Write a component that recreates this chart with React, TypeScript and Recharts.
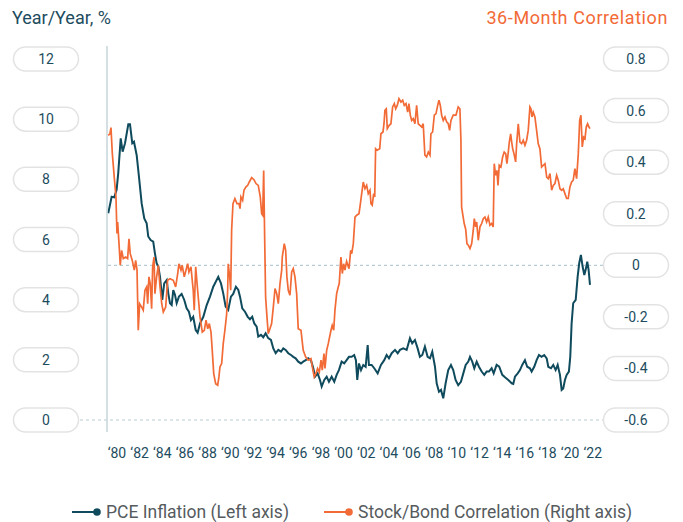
import React from 'react';
import { LineChart, Line, XAxis, YAxis, ReferenceLine, Legend } from 'recharts';

// ---------- data ----------
const xTicks = [1980, 1982, 1984, 1986, 1988, 1990, 1992, 1994, 1996, 1998, 2000, 2002, 2004, 2006, 2008, 2010, 2012, 2014, 2016, 2018, 2020, 2022];
const leftTicks = [0, 2, 4, 6, 8, 10, 12];
const rightTicks = [-0.6, -0.4, -0.2, 0, 0.2, 0.4, 0.6, 0.8];
const leftTitle = 'Year/Year, %';
const rightTitle = '36-Month Correlation';
const pceName = 'PCE Inflation (Left axis)';
const corrName = 'Stock/Bond Correlation (Right axis)';

// [year, core PCE inflation y/y %]
const pceSeries: [number, number][] = [
  [1979.23, 6.87], [1979.53, 7.42], [1979.76, 7.40], [1979.97, 7.65], [1980.11, 8.20], [1980.33, 9.36], [1980.50, 8.92], [1980.71, 9.20],
  [1981.00, 9.83], [1981.15, 9.83], [1981.35, 9.20], [1981.50, 9.25], [1981.74, 8.80], [1981.94, 8.09], [1982.18, 7.20], [1982.41, 6.70],
  [1982.62, 6.54], [1982.76, 6.10], [1982.97, 5.98], [1983.20, 5.93], [1983.35, 5.54], [1983.50, 5.21], [1983.65, 5.10], [1983.80, 4.76],
  [1984.00, 3.99], [1984.17, 4.54], [1984.39, 4.65], [1984.53, 4.21], [1984.68, 3.88], [1984.83, 3.82], [1984.97, 4.32], [1985.12, 4.16],
  [1985.27, 3.88], [1985.47, 4.10], [1985.71, 4.19], [1985.94, 3.99], [1986.15, 3.71], [1986.35, 3.60], [1986.53, 3.32], [1986.73, 3.43],
  [1986.95, 2.99], [1987.12, 2.90], [1987.33, 3.21], [1987.62, 3.43], [1987.92, 3.82], [1988.21, 4.10], [1988.50, 4.43], [1988.94, 4.76],
  [1989.18, 4.54], [1989.38, 4.21], [1989.59, 3.77], [1989.82, 3.66], [1990.06, 4.10], [1990.26, 4.19], [1990.50, 4.43], [1990.71, 4.32],
  [1990.86, 4.10], [1991.06, 3.71], [1991.30, 3.60], [1991.54, 3.43], [1991.74, 3.35], [1991.94, 3.43], [1992.12, 3.21], [1992.33, 3.10],
  [1992.47, 2.77], [1992.71, 2.83], [1992.91, 2.75], [1993.12, 2.88], [1993.35, 2.72], [1993.59, 2.66], [1993.80, 2.38], [1994.01, 2.22],
  [1994.24, 2.33], [1994.48, 2.27], [1994.68, 2.38], [1994.89, 2.33], [1995.12, 2.22], [1995.36, 2.16], [1995.56, 2.10], [1995.77, 2.05],
  [1996.00, 1.94], [1996.24, 1.88], [1996.44, 1.94], [1996.66, 1.99], [1996.88, 2.05], [1997.12, 1.99], [1997.33, 1.72], [1997.48, 1.44],
  [1997.71, 1.55], [1997.92, 1.33], [1998.07, 1.11], [1998.30, 1.33], [1998.51, 1.44], [1998.71, 1.27], [1998.95, 1.44], [1999.18, 1.27],
  [1999.39, 1.50], [1999.59, 1.66], [1999.83, 1.94], [2000.06, 1.88], [2000.27, 1.99], [2000.48, 2.10], [2000.72, 2.10], [2000.94, 2.16],
  [2001.09, 1.99], [2001.21, 1.33], [2001.36, 1.88], [2001.54, 1.66], [2001.74, 1.83], [2001.95, 1.77], [2002.13, 2.49], [2002.24, 1.83],
  [2002.48, 1.83], [2002.71, 1.72], [2003.01, 1.55], [2003.30, 1.83], [2003.59, 1.99], [2003.80, 2.16], [2004.01, 2.05], [2004.25, 2.22],
  [2004.54, 2.33], [2004.78, 2.22], [2004.98, 2.33], [2005.27, 2.38], [2005.57, 2.33], [2005.86, 2.72], [2006.06, 2.55], [2006.30, 2.66],
  [2006.54, 2.38], [2006.74, 2.10], [2006.95, 2.16], [2007.18, 2.44], [2007.42, 2.10], [2007.63, 2.05], [2007.83, 2.27], [2008.07, 1.77],
  [2008.22, 1.22], [2008.42, 0.94], [2008.60, 1.00], [2008.80, 0.72], [2009.01, 1.22], [2009.24, 1.66], [2009.48, 1.83], [2009.68, 1.66],
  [2009.89, 1.33], [2010.12, 1.16], [2010.36, 1.27], [2010.57, 1.55], [2010.78, 1.83], [2011.01, 1.94], [2011.16, 2.10], [2011.36, 1.94],
  [2011.54, 1.72], [2011.75, 1.94], [2011.95, 1.77], [2012.19, 1.61], [2012.42, 1.50], [2012.63, 1.61], [2012.83, 1.61], [2013.07, 1.72],
  [2013.25, 1.55], [2013.51, 1.83], [2013.74, 1.77], [2014.01, 1.50], [2014.25, 1.42], [2014.54, 1.33], [2014.84, 1.22], [2014.98, 1.20],
  [2015.13, 1.44], [2015.37, 1.55], [2015.57, 1.66], [2015.77, 1.83], [2016.01, 1.99], [2016.21, 1.77], [2016.45, 1.72], [2016.60, 1.61],
  [2016.83, 1.77], [2017.04, 1.99], [2017.25, 2.16], [2017.48, 2.10], [2017.71, 2.16], [2017.93, 2.05], [2018.07, 1.77], [2018.31, 1.72],
  [2018.51, 1.83], [2018.72, 1.66], [2018.90, 1.83], [2019.10, 1.50], [2019.25, 1.00], [2019.39, 1.05], [2019.54, 1.33], [2019.69, 1.50],
  [2019.89, 1.61], [2020.01, 2.10], [2020.13, 3.21], [2020.27, 3.88], [2020.49, 3.99], [2020.66, 4.76], [2020.80, 5.21], [2020.95, 5.49],
  [2021.10, 5.10], [2021.25, 4.82], [2021.37, 4.99], [2021.51, 5.26], [2021.63, 4.99], [2021.75, 4.49],
];

// [year, 36-month stock/bond correlation]
const corrSeries: [number, number][] = [
  [1979.23, 0.504], [1979.38, 0.510], [1979.47, 0.534], [1979.59, 0.433], [1979.76, 0.342], [1979.91, 0.265], [1980.00, 0.123], [1980.06, 0.168],
  [1980.18, 0.084], [1980.29, 0.000], [1980.41, 0.058], [1980.56, 0.026], [1980.77, 0.032], [1980.94, 0.026], [1981.06, 0.103], [1981.17, 0.045],
  [1981.35, 0.019], [1981.53, -0.019], [1981.65, 0.019], [1981.77, -0.019], [1981.88, -0.252], [1982.00, -0.149], [1982.18, -0.162], [1982.32, -0.174],
  [1982.47, -0.097], [1982.62, -0.084], [1982.71, -0.149], [1982.82, -0.045], [1982.94, -0.071], [1983.06, -0.168], [1983.15, -0.006], [1983.27, 0.032],
  [1983.35, -0.110], [1983.50, -0.045], [1983.65, 0.000], [1983.80, -0.084], [1983.95, -0.149], [1984.09, -0.181], [1984.30, -0.162], [1984.47, -0.058],
  [1984.68, -0.052], [1984.97, -0.058], [1985.18, -0.084], [1985.36, -0.032], [1985.47, 0.006], [1985.65, -0.019], [1985.76, 0.000], [1985.94, -0.045],
  [1986.09, -0.019], [1986.24, 0.006], [1986.35, -0.026], [1986.53, -0.006], [1986.73, -0.097], [1986.82, -0.174], [1986.95, -0.006], [1987.12, -0.097],
  [1987.33, -0.200], [1987.53, -0.259], [1987.71, -0.252], [1987.86, -0.213], [1988.01, -0.246], [1988.15, -0.226], [1988.30, -0.259], [1988.41, -0.330],
  [1988.54, -0.420], [1988.71, -0.459], [1988.89, -0.465], [1989.00, -0.433], [1989.09, -0.394], [1989.24, -0.381], [1989.38, -0.304], [1989.53, -0.250],
  [1989.68, -0.190], [1989.77, -0.097], [1989.82, 0.006], [1989.95, -0.045], [1990.04, -0.097], [1990.12, 0.136], [1990.24, 0.239], [1990.41, 0.259],
  [1990.59, 0.239], [1990.77, 0.239], [1990.86, 0.220], [1990.94, 0.265], [1991.09, 0.252], [1991.21, 0.291], [1991.39, 0.304], [1991.54, 0.310],
  [1991.68, 0.323], [1991.89, 0.340], [1992.09, 0.332], [1992.27, 0.317], [1992.47, 0.310], [1992.65, 0.265], [1992.77, 0.200], [1992.86, 0.194],
  [1992.95, 0.368], [1993.04, 0.097], [1993.12, -0.123], [1993.24, -0.200], [1993.35, -0.265], [1993.50, -0.246], [1993.65, -0.226], [1993.80, -0.162],
  [1993.95, -0.090], [1994.10, -0.110], [1994.24, -0.149], [1994.39, -0.071], [1994.54, -0.019], [1994.59, 0.032], [1994.77, 0.084], [1994.89, 0.058],
  [1995.00, -0.045], [1995.12, -0.097], [1995.27, -0.116], [1995.42, -0.026], [1995.56, -0.013], [1995.71, -0.045], [1995.86, -0.110], [1996.00, -0.246],
  [1996.24, -0.252], [1996.44, -0.330], [1996.66, -0.356], [1996.88, -0.368], [1997.12, -0.362], [1997.24, -0.394], [1997.41, -0.433], [1997.56, -0.420],
  [1997.71, -0.400], [1997.86, -0.414], [1998.01, -0.368], [1998.12, -0.407], [1998.27, -0.342], [1998.36, -0.400], [1998.51, -0.330], [1998.65, -0.304],
  [1998.89, -0.252], [1999.00, -0.233], [1999.13, -0.252], [1999.24, -0.174], [1999.39, -0.110], [1999.53, -0.084], [1999.62, -0.071], [1999.71, -0.006],
  [1999.77, 0.032], [1999.89, -0.032], [2000.01, 0.006], [2000.12, -0.019], [2000.27, 0.015], [2000.48, -0.013], [2000.63, 0.058], [2000.72, 0.045],
  [2000.86, 0.084], [2001.01, 0.187], [2001.16, 0.194], [2001.36, 0.200], [2001.47, 0.233], [2001.60, 0.278], [2001.74, 0.323], [2001.89, 0.297],
  [2002.04, 0.310], [2002.18, 0.278], [2002.33, 0.291], [2002.42, 0.239], [2002.53, 0.233], [2002.66, 0.278], [2002.75, 0.265], [2002.83, 0.452],
  [2002.97, 0.446], [2003.19, 0.452], [2003.30, 0.510], [2003.48, 0.517], [2003.57, 0.549], [2003.65, 0.601], [2003.77, 0.607], [2003.86, 0.530],
  [2004.03, 0.543], [2004.18, 0.549], [2004.33, 0.614], [2004.48, 0.627], [2004.60, 0.607], [2004.74, 0.620], [2004.89, 0.646], [2005.07, 0.633],
  [2005.22, 0.640], [2005.36, 0.620], [2005.51, 0.627], [2005.66, 0.594], [2005.77, 0.627], [2005.89, 0.582], [2006.01, 0.562], [2006.15, 0.569],
  [2006.30, 0.549], [2006.45, 0.620], [2006.59, 0.549], [2006.74, 0.543], [2006.89, 0.536], [2007.03, 0.549], [2007.18, 0.427], [2007.33, 0.420],
  [2007.48, 0.439], [2007.63, 0.427], [2007.71, 0.510], [2007.86, 0.517], [2008.01, 0.582], [2008.16, 0.588], [2008.31, 0.620], [2008.42, 0.640],
  [2008.54, 0.620], [2008.66, 0.582], [2008.80, 0.562], [2008.95, 0.575], [2009.10, 0.556], [2009.24, 0.549], [2009.36, 0.523], [2009.48, 0.562],
  [2009.68, 0.582], [2009.92, 0.582], [2010.12, 0.614], [2010.27, 0.607], [2010.36, 0.485], [2010.42, 0.226], [2010.51, 0.200], [2010.65, 0.162],
  [2010.78, 0.140], [2010.89, 0.084], [2011.01, 0.078], [2011.16, 0.065], [2011.31, 0.084], [2011.45, 0.136], [2011.54, 0.181], [2011.66, 0.149],
  [2011.75, 0.168], [2011.89, 0.097], [2012.04, 0.149], [2012.19, 0.162], [2012.33, 0.181], [2012.48, 0.187], [2012.63, 0.168], [2012.77, 0.187],
  [2012.92, 0.155], [2013.07, 0.162], [2013.21, 0.149], [2013.30, 0.394], [2013.42, 0.349], [2013.54, 0.368], [2013.63, 0.310], [2013.74, 0.388],
  [2013.89, 0.381], [2014.04, 0.420], [2014.18, 0.439], [2014.31, 0.433], [2014.42, 0.394], [2014.54, 0.439], [2014.63, 0.478], [2014.75, 0.510],
  [2014.84, 0.478], [2014.93, 0.452], [2015.04, 0.433], [2015.19, 0.401], [2015.28, 0.472], [2015.42, 0.549], [2015.57, 0.478], [2015.72, 0.472],
  [2015.86, 0.485], [2016.01, 0.465], [2016.16, 0.485], [2016.30, 0.523], [2016.45, 0.614], [2016.54, 0.607], [2016.63, 0.575], [2016.74, 0.594],
  [2016.89, 0.575], [2017.04, 0.523], [2017.18, 0.472], [2017.33, 0.452], [2017.48, 0.381], [2017.63, 0.388], [2017.78, 0.394], [2017.93, 0.342],
  [2018.07, 0.336], [2018.22, 0.356], [2018.37, 0.291], [2018.51, 0.310], [2018.66, 0.317], [2018.81, 0.349], [2018.95, 0.330], [2019.10, 0.297],
  [2019.25, 0.291], [2019.39, 0.297], [2019.54, 0.278], [2019.69, 0.259], [2019.83, 0.259], [2019.98, 0.304], [2020.13, 0.323], [2020.27, 0.330],
  [2020.42, 0.375], [2020.57, 0.336], [2020.72, 0.433], [2020.84, 0.562], [2020.95, 0.582], [2021.07, 0.459], [2021.19, 0.497], [2021.31, 0.491],
  [2021.42, 0.536], [2021.54, 0.549], [2021.66, 0.536], [2021.75, 0.530],
];

// ---------- styles ----------
const TEAL = '#0f4b5d';
const ORANGE = '#f26a36';
const AXIS_TEXT = '#1d4c5e';
const LEGEND_TEXT = '#565b5e';
const GRID = '#b9cbd2';
const FONT = 'Roboto, "Noto Sans", sans-serif';

const pceData = pceSeries.map(([t, v]) => ({ t, pce: v }));
const corrData = corrSeries.map(([t, v]) => ({ t, corr: v }));

const fmtRight = (v: number) => String(Number(v.toFixed(1)));
const fmtYear = (v: number) => '\u2018' + String(v).slice(2);

function makePillTick(centerX: number, fmt: (v: number) => string) {
  return (props: any) => {
    const { y, payload } = props;
    return (
      <g>
        <rect x={centerX - 32.5} y={y - 12} width={65} height={24} rx={12} ry={12} fill="#ffffff" stroke="#e3e3e3" strokeWidth={1.5} />
        <text x={centerX} y={y} dy="0.36em" textAnchor="middle" fill={AXIS_TEXT} fontSize={14} fontFamily={FONT}>
          {fmt(payload.value)}
        </text>
      </g>
    );
  };
}

const LegendContent = () => (
  <div style={{ position: 'relative', width: 683, height: 50, fontFamily: FONT }}>
    {[
      { name: pceName, color: TEAL, left: 72 },
      { name: corrName, color: ORANGE, left: 324 },
    ].map((item) => (
      <div
        key={item.name}
        style={{ position: 'absolute', left: item.left, top: 30, height: 20, display: 'flex', alignItems: 'center', whiteSpace: 'nowrap' }}
      >
        <svg width={30} height={10} style={{ display: 'block' }}>
          <line x1={0} y1={5} x2={24} y2={5} stroke={item.color} strokeWidth={2} />
          <circle cx={25} cy={5} r={3.8} fill={item.color} />
        </svg>
        <span style={{ fontSize: 17.5, color: LEGEND_TEXT, marginLeft: 4, lineHeight: '20px' }}>{item.name}</span>
      </div>
    ))}
  </div>
);

export default function App() {
  return (
    <div style={{ position: 'absolute', left: 0, top: 0, width: 683, height: 522, background: '#ffffff', fontFamily: FONT }}>
      <LineChart width={683} height={522} margin={{ top: 46, right: 0, bottom: 0, left: 0 }}>
        <XAxis
          dataKey="t"
          type="number"
          domain={[1979.12, 2022.9]}
          allowDataOverflow
          ticks={xTicks}
          interval={0}
          tickFormatter={fmtYear}
          axisLine={false}
          tickLine={false}
          tickSize={0}
          tickMargin={16}
          height={40}
          tick={{ fill: AXIS_TEXT, fontSize: 14, fontFamily: FONT }}
        />
        <YAxis
          yAxisId="left"
          orientation="left"
          type="number"
          width={107}
          domain={[-0.399, 12.432]}
          allowDataOverflow
          ticks={leftTicks}
          interval={0}
          axisLine={{ stroke: '#c6d5db', strokeWidth: 1.5 }}
          tickLine={false}
          tickSize={0}
          tick={makePillTick(46, (v) => String(v))}
          label={{
            content: () => (
              <text x={12} y={24} fill={AXIS_TEXT} fontSize={18} fontFamily={FONT}>
                {leftTitle}
              </text>
            ),
          }}
        />
        <YAxis
          yAxisId="right"
          orientation="right"
          type="number"
          width={80}
          domain={[-0.6465, 0.8504]}
          allowDataOverflow
          ticks={rightTicks}
          interval={0}
          axisLine={false}
          tickLine={false}
          tickSize={0}
          tick={makePillTick(636, fmtRight)}
          label={{
            content: () => (
              <text x={668} y={24} textAnchor="end" fill={ORANGE} fontSize={18} letterSpacing={0.6} fontFamily={FONT}>
                {rightTitle}
              </text>
            ),
          }}
        />
        <ReferenceLine yAxisId="right" y={0} stroke={GRID} strokeDasharray="3 3" strokeWidth={1.2} />
        <ReferenceLine
          yAxisId="left"
          y={0}
          shape={(p: any) => (
            <line x1={p.x1 - 27} y1={p.y1} x2={p.x2} y2={p.y2} stroke={GRID} strokeDasharray="3 3" strokeWidth={1.2} />
          )}
        />
        <Legend verticalAlign="bottom" align="left" height={50} content={() => <LegendContent />} />
        <Line
          yAxisId="left"
          data={pceData}
          dataKey="pce"
          name={pceName}
          type="linear"
          stroke={TEAL}
          strokeWidth={2}
          dot={false}
          activeDot={false}
          isAnimationActive={false}
        />
        <Line
          yAxisId="right"
          data={corrData}
          dataKey="corr"
          name={corrName}
          type="linear"
          stroke={ORANGE}
          strokeWidth={1.7}
          dot={false}
          activeDot={false}
          isAnimationActive={false}
        />
      </LineChart>
    </div>
  );
}
